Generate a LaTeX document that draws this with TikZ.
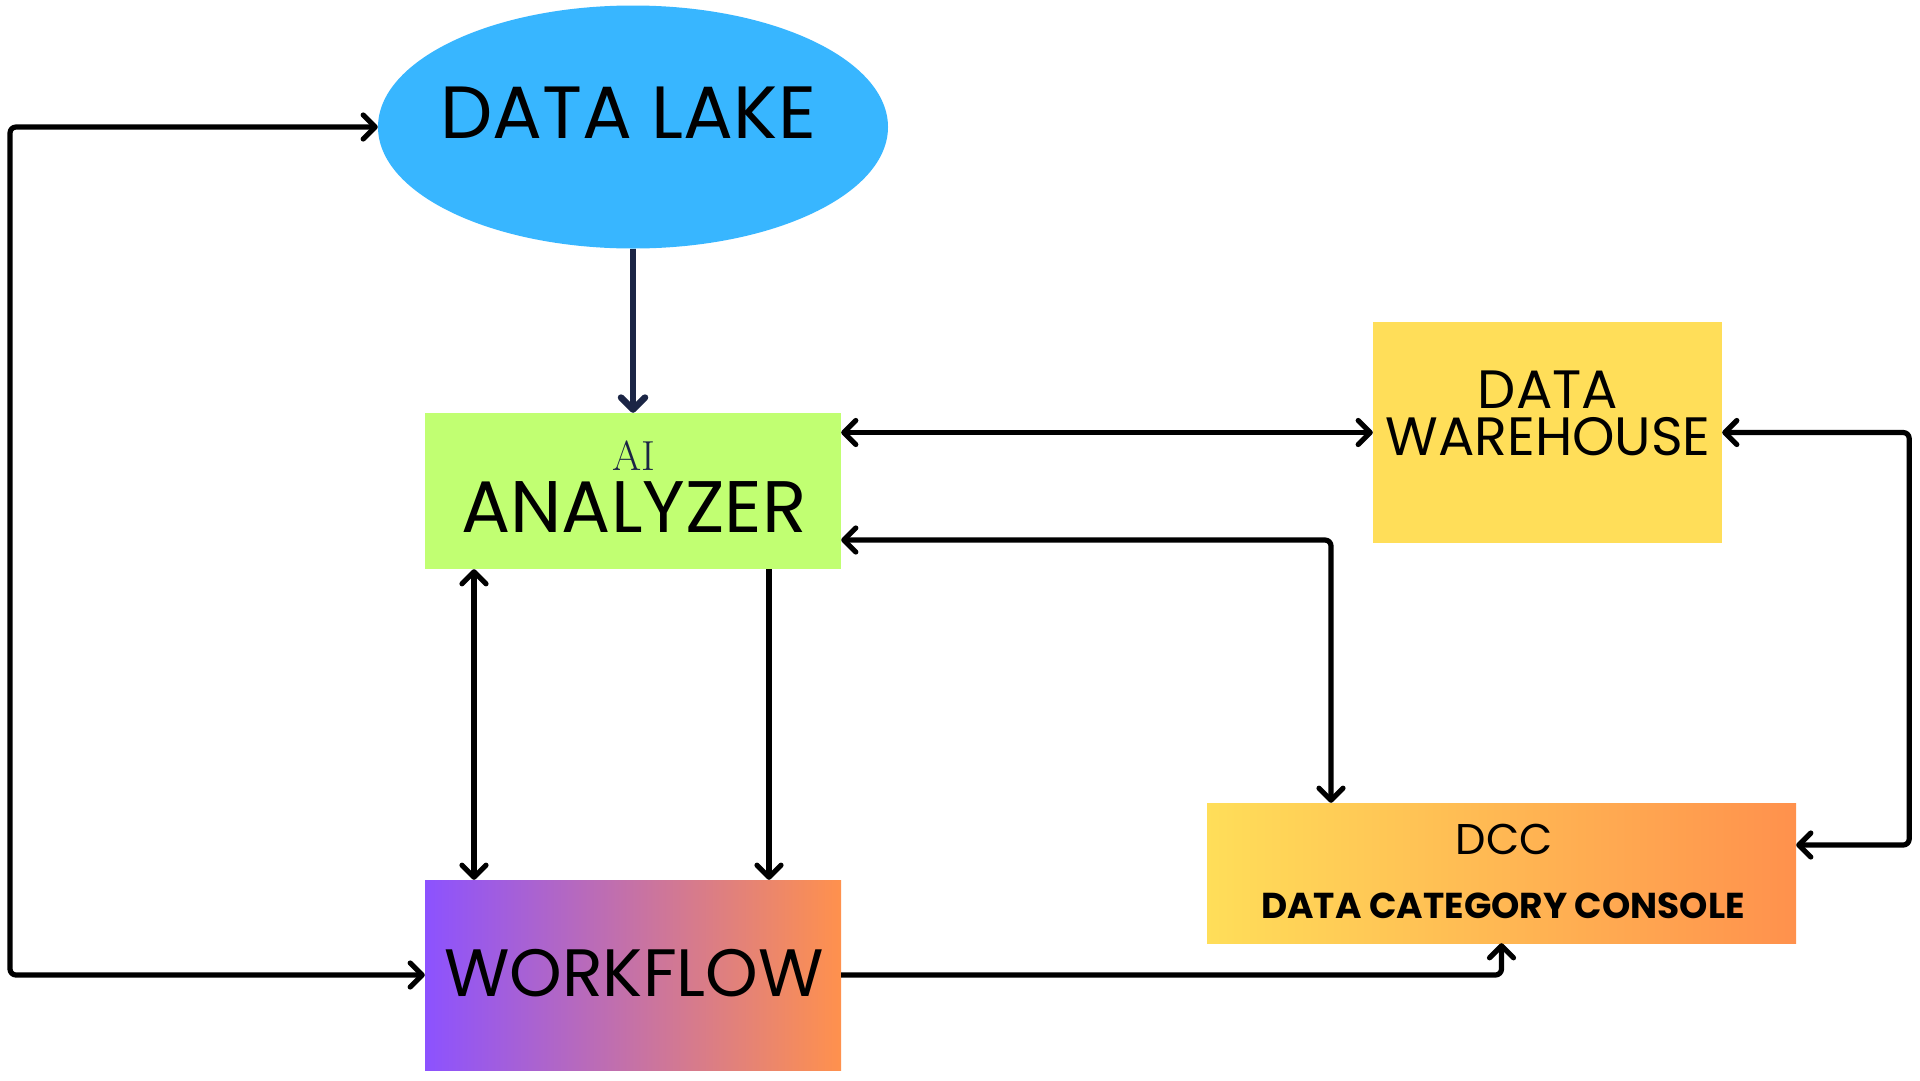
\documentclass[tikz,border=0pt]{standalone}
\usepackage{fontspec}
\setmainfont{Poppins}
\newfontfamily\serifai{Latin Modern Roman}
\usetikzlibrary{shapes.geometric,arrows.meta}
\definecolor{lakeblue}{HTML}{38B6FF}
\definecolor{limegreen}{HTML}{C1FF72}
\definecolor{sunyellow}{HTML}{FFDE59}
\definecolor{warmorange}{HTML}{FF914D}
\definecolor{violet}{HTML}{8C52FF}
\definecolor{navy}{HTML}{1B2545}
\tikzset{
  box/.style={rectangle, inner sep=0pt, draw=none},
  lbl/.style={inner sep=0pt, text=black},
  conn/.style={line width=5.2pt, black, rounded corners=6pt, line join=round},
  barb/.tip={Straight Barb[round,length=12pt,width=24pt]},
}
\begin{document}
\begin{tikzpicture}[x=1pt,y=-1pt]
\useasboundingbox[fill=white] (0,0) rectangle (1920,1080);

% nodes
\node[ellipse, fill=lakeblue, minimum width=510pt, minimum height=243pt, inner sep=0pt] (lake) at (633,127) {};
\node[lbl, font=\fontsize{74}{80}\selectfont] (laketext) at (628,113) {DATA LAKE};

\node[box, fill=limegreen, minimum width=416pt, minimum height=156pt] (analyzer) at (633,491) {};
\node[lbl, text=navy, font=\serifai\fontsize{42}{46}\selectfont] (aitext) at (634,456) {AI};
\node[lbl, font=\fontsize{73}{78}\selectfont] (antext) at (634,507) {ANALYZER};

\node[box, fill=sunyellow, minimum width=349pt, minimum height=221pt] (warehouse) at (1547.5,432.5) {};
\node[lbl, font=\fontsize{54}{58}\selectfont] (whtop) at (1548,390) {DATA};
\node[lbl, font=\fontsize{54}{58}\selectfont] (whbot) at (1548,437) {WAREHOUSE};

\node[box, left color=sunyellow, right color=warmorange, minimum width=589pt, minimum height=140pt] (dcc) at (1501.5,873) {};
\node[lbl, font=\fontsize{43}{48}\selectfont] (dcctext) at (1504,839) {DCC};
\node[lbl, font=\bfseries\fontsize{36}{40}\selectfont] (dcclong) at (1503,906) {DATA CATEGORY CONSOLE};

\node[box, left color=violet, right color=warmorange, minimum width=416pt, minimum height=190pt] (workflow) at (633,975) {};
\node[lbl, font=\fontsize{67}{72}\selectfont] (wftext) at (634,973) {WORKFLOW};

\coordinate (leftrail) at (10,0);

% connectors
\draw[conn, navy, line width=6.5pt, -{barb}] (lake.south -| analyzer.north) -- (analyzer.north);
\draw[conn, {barb}-{barb}] (lake.west) -- (lake.west -| leftrail) |- (workflow.west);
\draw[conn, {barb}-{barb}] (analyzer.east |- warehouse.west) -- (warehouse.west);
\draw[conn, {barb}-{barb}] ([yshift=-49pt]analyzer.east) -| ([xshift=-170.5pt]dcc.north);
\draw[conn, {barb}-{barb}] ([xshift=-159pt]analyzer.south) -- ([xshift=-159pt]workflow.north);
\draw[conn, -{barb}] ([xshift=136pt]analyzer.south) -- ([xshift=136pt]workflow.north);
\draw[conn, -{barb}] (workflow.east) -| (dcc.south);
\draw[conn, {barb}-{barb}] (warehouse.east) -- ++(187,0) |- ([yshift=28pt]dcc.east);
\end{tikzpicture}
\end{document}
